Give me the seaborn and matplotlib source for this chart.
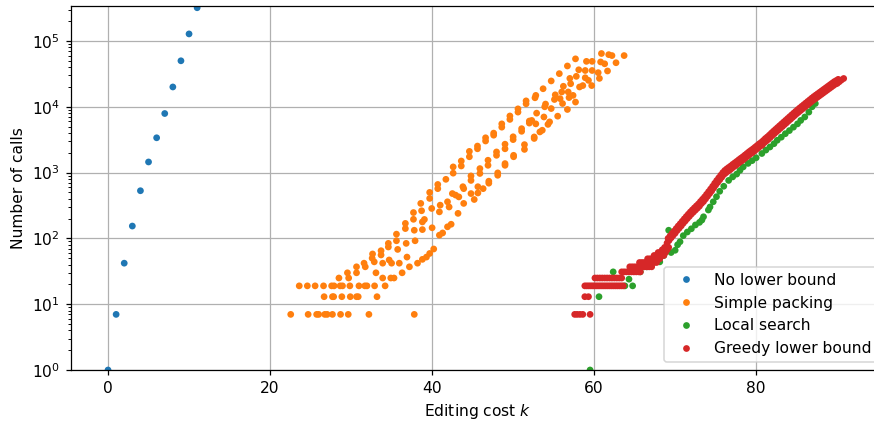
import numpy as np
import pandas as pd
import matplotlib
matplotlib.use("Agg")
import matplotlib.pyplot as plt
import seaborn as sns

# --- No lower bound ---
nolb_k = [0, 1, 2, 3, 4, 5, 6, 7, 8, 9, 10, 11]
nolb_calls = [1, 7, 42, 154, 530, 1450, 3380, 7900, 20000, 50000, 128000, 320000]

# --- Simple packing ---
pack_k = [
    22.55, 24.7, 25.75, 26.0, 26.75, 27.05, 27.7, 28.7, 29.65, 32.2, 37.8,
    26.67, 27.7, 27.85, 28.86, 29.9, 30.67, 30.88, 33.2,
    23.6, 24.6, 25.56, 26.6, 27.6, 27.9, 28.65, 28.94, 29.85, 30.97, 31.7, 31.96, 32.9, 34.2,
    28.5, 29.55, 29.7, 30.67, 30.67, 31.6, 31.75, 32.6, 32.65, 32.86, 33.07, 33.7, 33.7, 33.9,
    33.9, 34.6, 34.6, 34.7, 34.9, 35.0, 35.3, 35.6, 35.6, 35.75, 35.95, 36.3, 36.7, 36.7, 36.8,
    36.9, 37.2,
    37.7, 37.7, 37.8, 37.9, 38.2, 38.6, 38.7, 38.8, 38.8, 38.8, 39.05, 39.3, 39.7, 39.7, 39.7,
    39.95, 40.0, 40.2, 40.7, 40.7, 40.9, 40.9, 41.0, 41.3, 41.7, 41.9, 41.9, 42.1, 42.35, 42.5,
    42.6, 42.6, 42.9, 43.2, 43.3, 43.6, 43.6, 43.8, 43.9, 43.9, 44.6, 44.6, 44.8, 44.8, 44.8,
    45.2, 45.6, 45.6, 45.65, 45.65, 45.9, 45.9, 46.3, 46.6, 46.6, 46.9, 46.9, 47.0, 47.0, 47.6,
    47.6, 47.95, 47.95, 48.1, 48.1, 48.6, 48.6, 49.0, 49.0, 49.0, 49.0, 49.6, 49.6, 50.0, 50.0,
    50.06, 50.06, 50.6, 50.6, 51.05, 51.05, 51.4, 51.4, 51.6, 51.6, 52.0, 52.0, 52.6, 52.6,
    52.3, 52.7, 52.8, 52.8, 52.9, 53.3, 53.6, 53.7, 53.8, 53.9, 54.0, 54.3, 54.5, 54.7, 54.7,
    55.1, 55.2, 55.5, 55.7, 55.8, 56.0, 56.1, 56.2, 56.7, 56.7, 56.8, 56.9, 57.0, 57.1, 57.4,
    57.7, 57.7, 57.8, 58.1, 58.2, 58.6, 58.9, 58.9, 59.05, 59.3, 59.7, 59.75, 59.75, 60.5, 60.65,
    60.8, 60.9, 61.3, 61.65, 61.8, 62.2, 62.7, 63.7,
]
pack_calls = [
    7, 7, 7, 7, 7, 7, 7, 7, 7, 7, 7,
    13, 13, 13, 13, 13, 13, 13, 13,
    19, 19, 19, 19, 19, 19, 19, 19, 19, 19, 19, 19, 19, 19,
    25, 30, 25, 37, 30, 42, 37, 50, 58, 44, 30, 56, 65, 42,
    25, 74, 84, 47, 25, 42, 25, 92, 116, 68, 42, 30, 141, 169, 84,
    52, 37,
    195, 247, 133, 92, 42, 340, 263, 48, 136, 178, 194, 52, 59, 405, 500,
    285, 145, 69, 570, 660, 112, 253, 320, 121, 790, 150, 360, 300, 164, 480,
    980, 1220, 455, 240, 427, 1260, 1500, 610, 570, 340, 1740, 2100, 480, 760, 890,
    390, 2300, 2530, 490, 610, 970, 1150, 570, 3020, 3380, 1290, 1540, 690, 740, 3700,
    3980, 1830, 2060, 910, 990, 4900, 5500, 1290, 1370, 2300, 2700, 6430, 7250, 3170, 3500,
    1740, 1830, 8300, 9300, 4240, 4650, 2250, 2660, 11100, 12300, 5650, 6070, 3300, 3480,
    6200, 13700, 14900, 5500, 8000, 4150, 4400, 18800, 7000, 10000, 11000, 5400, 5900, 24700, 9400,
    12900, 15200, 7200, 31900, 13300, 16800, 11200, 20500, 41700, 9100, 16800, 13800, 27000, 22400, 14900,
    53500, 11800, 29000, 36500, 20000, 21000, 35600, 27600, 49000, 25200, 21000, 49000, 35600, 33000, 27000,
    48000, 64500, 45000, 35000, 62000, 60000, 46700, 60000,
]

# --- Local search ---
local_k = [
    59.5, 60.6, 62.35, 63.8, 64.3, 64.75, 65.7, 66.5, 67.2, 68.1, 68.6, 69.2, 69.5, 70.0,
    70.3, 70.6, 71.0, 71.5, 72.0, 72.5, 73.0, 73.3, 73.5, 74.1, 74.3, 74.7, 75.1, 75.5,
    76.0, 76.6, 77.1, 77.6, 78.0, 78.4, 79.0, 79.5, 80.0, 80.7, 81.2, 81.7, 82.2, 82.6,
    83.1, 83.6, 84.1, 84.6, 85.1, 85.5, 86.0, 86.5, 86.9, 87.3,
]
local_calls = [
    1, 13, 31, 19, 24, 19, 31, 37, 43, 44, 55, 133, 61, 66,
    80, 89, 110, 125, 140, 160, 175, 190, 213, 270, 300, 360, 430, 520,
    620, 760, 860, 950, 1080, 1220, 1380, 1520, 1680, 1950, 2200, 2450, 2750, 3100,
    3450, 3900, 4350, 4900, 5500, 6200, 7000, 8300, 10000, 11200,
]

# --- Greedy lower bound ---
greedy_k = [
    57.6, 57.9, 58.25, 58.6, 59.5, 58.85, 59.3,
    58.85, 59.1, 59.35, 59.6, 59.85, 60.1, 60.35, 60.6, 60.85, 61.1, 61.35, 61.6, 61.85,
    62.1, 62.35, 62.6, 62.85, 63.1, 63.35, 63.6,
    60.1, 60.4, 60.7, 61.0, 61.3, 61.6, 61.9, 62.2, 62.5, 62.8, 63.1, 63.4,
    63.4, 63.7, 64.0, 64.3, 64.6, 64.9, 65.2, 65.5, 65.7,
    64.4, 64.7, 65.0, 65.3, 65.6, 65.9, 66.2, 66.5, 66.8, 67.1,
    65.6, 65.9, 66.2, 66.5, 66.8, 67.1, 67.4, 67.7,
    66.6, 66.9, 67.2, 67.5, 67.8, 68.1,
    67.4, 67.7, 68.0, 68.3, 68.6,
    67.9, 68.2, 68.5, 68.8,
    68.4, 68.7, 69.0,
    68.7, 69.0, 69.2,
    # lower edge of the band
    69.0, 69.25, 69.5, 69.75, 70.0, 70.25, 70.5, 70.75, 71.0, 71.25, 71.5, 71.75,
    72.0, 72.25, 72.5, 72.75, 73.0, 73.25, 73.5, 73.75, 74.0, 74.25, 74.5, 74.75,
    75.0, 75.25, 75.5, 75.75, 76.0, 76.25, 76.5, 76.75, 77.0, 77.25, 77.5, 77.75,
    78.0, 78.25, 78.5, 78.75, 79.0, 79.25, 79.5, 79.75, 80.0, 80.25, 80.5, 80.75,
    81.0, 81.25, 81.5, 81.75, 82.0, 82.25, 82.5, 82.75, 83.0, 83.25, 83.5, 83.75,
    84.0, 84.25, 84.5, 84.75, 85.0, 85.25, 85.5, 85.75, 86.0, 86.25, 86.5, 86.75,
    87.0, 87.25, 87.5, 87.75, 88.0, 88.25, 88.5, 88.75, 89.0, 89.25, 89.5, 89.75,
    90.0, 90.25, 90.5, 90.8,
    # upper edge of the band
    69.125, 69.375, 69.625, 69.875, 70.125, 70.375, 70.625, 70.875, 71.125, 71.375,
    71.625, 71.875, 72.125, 72.375, 72.625, 72.875, 73.125, 73.375, 73.625, 73.875,
    74.125, 74.375, 74.625, 74.875, 75.125, 75.375, 75.625, 75.875, 76.125, 76.375,
    76.625, 76.875, 77.125, 77.375, 77.625, 77.875, 78.125, 78.375, 78.625, 78.875,
    79.125, 79.375, 79.625, 79.875, 80.125, 80.375, 80.625, 80.875, 81.125, 81.375,
    81.625, 81.875, 82.125, 82.375, 82.625, 82.875, 83.125, 83.375, 83.625, 83.875,
    84.125, 84.375, 84.625, 84.875, 85.125, 85.375, 85.625, 85.875, 86.125, 86.375,
    86.625, 86.875, 87.125, 87.375, 87.625, 87.875, 88.125, 88.375, 88.625, 88.875,
    89.125, 89.375, 89.625, 89.875, 90.125,
]
greedy_calls = [
    7, 7, 7, 7, 7, 13, 13,
    19, 19, 19, 19, 19, 19, 19, 19, 19, 19, 19, 19, 19,
    19, 19, 19, 19, 19, 19, 19,
    25, 25, 25, 25, 25, 25, 25, 25, 25, 25, 25, 25,
    31, 31, 31, 31, 31, 31, 31, 31, 31,
    37, 37, 37, 37, 37, 37, 37, 37, 37, 37,
    43, 43, 43, 43, 43, 43, 43, 43,
    49, 49, 49, 49, 49, 49,
    55, 55, 55, 55, 55,
    61, 61, 61, 61,
    67, 67, 67,
    73, 73, 73,
    85, 93, 102, 111, 120, 132, 143, 155, 170, 184, 200, 216,
    234, 251, 269, 288, 309, 339, 363, 398, 437, 479, 525, 582,
    646, 708, 776, 851, 933, 989, 1047, 1096, 1161, 1230, 1288, 1365,
    1445, 1514, 1603, 1698, 1799, 1905, 1995, 2113, 2239, 2371, 2512, 2630,
    2851, 3020, 3199, 3428, 3673, 3908, 4169, 4436, 4732, 5035, 5370, 5715,
    6095, 6486, 6918, 7362, 7852, 8318, 8810, 9333, 9886, 10471, 11092, 11749,
    12445, 13122, 13804, 14521, 15311, 16106, 16982, 17865, 18836, 19815, 20893, 21979,
    22646, 23988, 25410, 26915,
    100, 109, 119, 129, 141, 154, 167, 182, 198, 215,
    233, 252, 271, 291, 312, 334, 363, 393, 426, 467,
    512, 562, 619, 687, 757, 830, 910, 998, 1076, 1140,
    1200, 1264, 1338, 1410, 1485, 1573, 1657, 1745, 1848, 1957,
    2074, 2183, 2300, 2436, 2581, 2733, 2879, 3068, 3286, 3481,
    3709, 3974, 4243, 4521, 4816, 5131, 5467, 5824, 6205, 6611,
    7042, 7503, 7993, 8515, 9051, 9588, 10156, 10758, 11395, 12071,
    12786, 13543, 14313, 15074, 15857, 16700, 17588, 18522, 19508, 20545,
    21638, 22788, 24000, 24987, 26104,
]

series = ["No lower bound", "Simple packing", "Local search", "Greedy lower bound"]
frames = [
    pd.DataFrame({"k": nolb_k, "calls": nolb_calls, "method": series[0]}),
    pd.DataFrame({"k": pack_k, "calls": pack_calls, "method": series[1]}),
    pd.DataFrame({"k": local_k, "calls": local_calls, "method": series[2]}),
    pd.DataFrame({"k": greedy_k, "calls": greedy_calls, "method": series[3]}),
]
df = pd.concat(frames, ignore_index=True)

DPI = 111.5
fig = plt.figure(figsize=(874 / DPI, 422 / DPI), dpi=DPI)
# the right spine sits just past the figure edge
ax = fig.add_axes([71 / 874, 52 / 422, 814 / 874, 364 / 422])

palette = dict(zip(series, sns.color_palette("tab10", 4)))
sns.scatterplot(data=df, x="k", y="calls", hue="method", hue_order=series,
                palette=palette, s=19, linewidth=0, edgecolor="none", ax=ax)

ax.set_yscale("log")
ax.set_ylim(1, 3.4e5)
ax.set_xlim(-4.57, 95.9)
ax.set_xticks([0, 20, 40, 60, 80])
ax.grid(True, which="major", color="#b0b0b0", linewidth=0.8)
ax.set_axisbelow(True)
ax.set_xlabel("Editing cost $k$")
ax.set_ylabel("Number of calls")
ax.legend(loc="lower right", title=None)

fig.savefig("out.png", dpi=DPI)
